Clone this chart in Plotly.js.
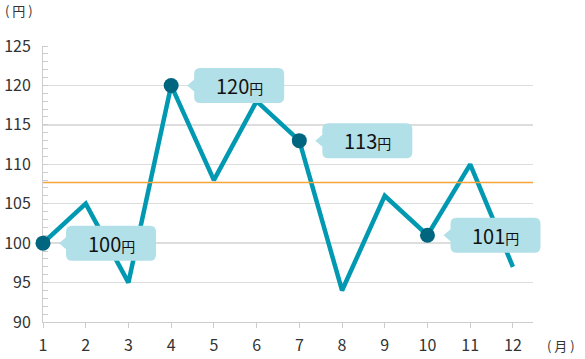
<!DOCTYPE html>
<html>
<head>
<meta charset="utf-8">
<script src="https://cdn.plot.ly/plotly-3.0.1.min.js"></script>
<style>html,body{margin:0;padding:0;background:#fff;}#chart{width:585px;height:359px;}</style>
</head>
<body>
<div id="chart"></div>
<script>
const months = [1,2,3,4,5,6,7,8,9,10,11,12];
const prices = [100,105,95,120,108,118,113,94,106,101,110,97];
const averagePrice = 107.7;
const calloutMonths = [1,4,7,10];
const yTicks = [90,95,100,105,110,115,120,125];
const unitY = '(\u00a0円\u00a0)';
const unitX = '(\u00a0月\u00a0)';

const font = '"Noto Sans CJK JP", "Noto Sans", sans-serif';
const calloutX = calloutMonths;
const calloutY = calloutMonths.map(m => prices[months.indexOf(m)]);

// plot geometry
const L = 43, R = 52, W = 585, H = 359, T = 46, B = 37;
const plotW = W - L - R;           // main plot width
const R2 = 30;                     // overlay subplot extends further right
const plotW2 = W - L - R2;
const plotH = H - T - B;
const xRange = [1, 12.47];
const xRange2 = [xRange[0], xRange[0] + (xRange[1] - xRange[0]) * plotW2 / plotW];

const traces = [
  {x: months, y: prices, type: 'scatter', mode: 'lines', xaxis: 'x', yaxis: 'y',
   line: {color: '#0099b1', width: 4.5}, cliponaxis: false, hoverinfo: 'skip'},
  {x: calloutX, y: calloutY, type: 'scatter', mode: 'markers', xaxis: 'x2', yaxis: 'y2',
   marker: {color: '#006680', size: 15}, cliponaxis: false, hoverinfo: 'skip'}
];

const calloutPath = 'M 16,0 L 23,-6 L 23,-11.5 Q 23,-17.5 29,-17.5 L 107,-17.5 Q 113,-17.5 113,-11.5 L 113,11.5 Q 113,17.5 107,17.5 L 29,17.5 Q 23,17.5 23,11.5 L 23,6 Z';

const shapes = [
  {type: 'line', xref: 'x domain', x0: 0, x1: 1, yref: 'y', y0: averagePrice, y1: averagePrice,
   line: {color: '#f5a53a', width: 1.5}, layer: 'above'}
];
calloutX.forEach((x, i) => {
  shapes.push({type: 'path', xref: 'x2', yref: 'y2', xsizemode: 'pixel', ysizemode: 'pixel',
    xanchor: x, yanchor: calloutY[i], path: calloutPath,
    fillcolor: '#b2e0e8', line: {width: 0}, layer: 'above'});
});

const annotations = calloutX.map((x, i) => ({
  x: x, y: calloutY[i], xref: 'x2', yref: 'y2', showarrow: false,
  xshift: 68, yshift: 0, xanchor: 'center', yanchor: 'middle',
  text: calloutY[i] + '<span style="font-size:14px">円</span>',
  font: {family: font, size: 20, color: '#111'}
}));
annotations.push({xref: 'paper', yref: 'paper', x: (3 - L) / plotW2, y: 1 + 36 / plotH, xanchor: 'left', yanchor: 'middle',
  text: unitY, showarrow: false, font: {family: font, size: 13, color: '#333'}});
annotations.push({xref: 'paper', yref: 'paper', x: (545 - L) / plotW2, y: -23 / plotH, xanchor: 'left', yanchor: 'middle',
  text: unitX, showarrow: false, font: {family: font, size: 13, color: '#333'}});

const layout = {
  width: W, height: H,
  margin: {l: L, r: R2, t: T, b: B},
  paper_bgcolor: '#fff', plot_bgcolor: 'rgba(0,0,0,0)',
  showlegend: false,
  font: {family: font, color: '#333'},
  xaxis: {domain: [0, plotW / plotW2], range: xRange, tickvals: months, ticktext: months.map(String),
    showgrid: false, zeroline: false, showline: true, linecolor: '#cccccc', linewidth: 1,
    ticks: 'outside', ticklen: 5, tickcolor: '#cccccc', ticklabelstandoff: 4,
    tickfont: {size: 16, color: '#333'}, anchor: 'y'},
  yaxis: {range: [90, 125], tickvals: yTicks, ticktext: yTicks.map(String), anchor: 'x',
    showgrid: true, gridcolor: '#dddddd', gridwidth: 1.5, zeroline: false,
    showline: true, linecolor: '#cccccc', linewidth: 1, ticks: '',
    ticklabelstandoff: 8,
    minor: {dtick: 1, ticks: 'inside', ticklen: 5, tickcolor: '#cccccc', showgrid: false},
    tickfont: {size: 16, color: '#333'}},
  xaxis2: {domain: [0, 1], range: xRange2, visible: false, anchor: 'y2', showgrid: false, zeroline: false},
  yaxis2: {range: [90, 125], visible: false, anchor: 'x2', showgrid: false, zeroline: false},
  shapes: shapes,
  annotations: annotations
};

Plotly.newPlot('chart', traces, layout, {staticPlot: true, displayModeBar: false});
</script>
</body>
</html>
